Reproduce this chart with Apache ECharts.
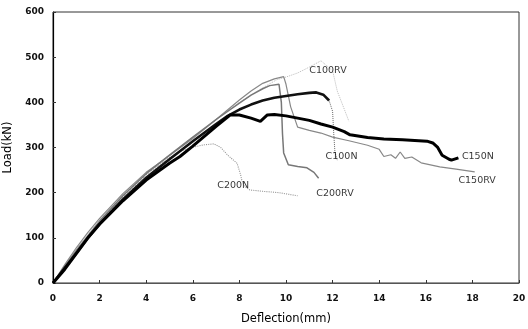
<!DOCTYPE html>
<html><head><meta charset="utf-8">
<script src="https://cdn.jsdelivr.net/npm/echarts@6/dist/echarts.min.js"></script>
<style>html,body{margin:0;padding:0;background:#fff}#c{width:528px;height:329px}</style>
</head><body><div id="c"></div>
<script>
// Deflection (mm), Load (kN)
const c150N = [[0,0],[0.5,30],[1,65],[1.5,100],[2,130],[3,182],[4,228],[5,265],[5.45,280],[6,303],[7,347],[7.6,372],[8,372],[8.5,365],[8.9,358],[9.2,372],[9.5,373],[10,370],[10.5,365],[11,360],[11.5,352],[12,345],[12.5,335],[12.75,328],[13.5,322],[14.2,319],[15,317],[16.05,314],[16.3,310],[16.5,301],[16.7,283],[17.0,274],[17.1,272],[17.4,277]];
const c100N = [[0,0],[0.5,33],[1,66],[1.5,100],[2,131],[3,185],[4,233],[5,274],[6,314],[7,352],[7.5,370],[8,384],[8.5,395],[9,404],[9.5,410],[10,414],[10.5,418],[11,421],[11.3,422],[11.6,417],[11.85,404]];
const c100NDrop = [[11.85,404],[12.0,380],[12.05,330],[12.1,290],[12.2,272]];
const c150RV = [[0,0],[0.5,40],[1,78],[1.5,112],[2,143],[3,198],[4,245],[5,282],[6,320],[7,362],[8,405],[8.5,425],[9,442],[9.5,452],[9.9,457],[10.0,440],[10.2,390],[10.5,345],[11,338],[11.5,332],[12,323],[12.7,315],[13.5,305],[14,296],[14.2,280],[14.5,284],[14.7,276],[14.9,290],[15.1,276],[15.4,279],[15.8,266],[16.6,257],[17.3,252],[18.1,246]];
const c100RV = [[0,0],[1,74],[2,140],[3,196],[4,244],[5,284],[6,323],[7,361],[8,400],[9,432],[9.6,450],[10,456],[10.5,465],[11,478],[11.5,492],[12,470],[12.2,425],[12.5,385],[12.7,358]];
const c200RV = [[0,0],[1,72],[2,137],[3,193],[4,242],[5,283],[6,323],[7,362],[8,398],[8.5,416],[9,430],[9.3,437],[9.7,440],[9.8,400],[9.85,330],[9.9,288],[10.1,262],[10.5,258],[10.9,255],[11.2,245],[11.4,232]];
const c200N = [[0,0],[1,70],[2,135],[3,190],[4,240],[5,278],[5.5,292],[6,301],[6.5,306],[6.9,308],[7.2,300],[7.5,283],[7.9,265],[8.05,240],[8.1,228],[8.2,215],[8.45,206],[9,203],[9.7,200],[10.5,193]];
const seriesNames = ['C150N','C100N','C150RV','C100RV','C200RV','C200N'];
const labelTexts = ['C100RV','C100N','C150N','C150RV','C200RV','C200N'];
const labelCoords = [[11.0,471],[11.7,279],[17.55,279],[17.4,226],[11.3,199],[7.05,215]];
const xTicks = [0,2,4,6,8,10,12,14,16,18,20];
const yTicks = [0,100,200,300,400,500,600];

const chart = echarts.init(document.getElementById('c'));
const font = 'DejaVu Sans';
function line(name, data, color, width, type, z) {
  return {name, type:'line', data, symbol:'none', z: z||2,
    lineStyle:{color, width, type: type||'solid'}, animation:false};
}
const labelSeries = {
  type:'scatter', data: labelCoords.map((c,i)=>({value:c, name:labelTexts[i]})),
  symbolSize:0, z:10, animation:false,
  label:{show:true, position:'right', distance:0, formatter:p=>p.name,
    color:'#000', fontFamily:font, fontSize:9.5}
};
chart.setOption({
  backgroundColor:'#fff',
  animation:false,
  grid:{left:53, right:9, top:12, bottom:46, show:true, borderColor:'#333', borderWidth:1,
    containLabel:false, outerBoundsMode:'none'},
  xAxis:{type:'value', min:0, max:20, interval:2,
    name:'Deflection(mm)', nameLocation:'middle', nameGap:30,
    nameTextStyle:{fontFamily:font, fontSize:11.5, color:'#000'},
    axisLine:{show:true, lineStyle:{color:'#555', width:1}},
    axisTick:{show:true, inside:true, length:3, lineStyle:{color:'#333'}},
    axisLabel:{fontFamily:font, fontSize:9, fontWeight:'bold', color:'#111', margin:11},
    splitLine:{show:false}},
  yAxis:{type:'value', min:0, max:600, interval:100,
    name:'Load(kN)', nameLocation:'middle', nameGap:34,
    nameTextStyle:{fontFamily:font, fontSize:11.5, color:'#000'},
    axisLine:{show:true, lineStyle:{color:'#000', width:1.2}},
    axisTick:{show:true, inside:true, length:3, lineStyle:{color:'#333'}},
    axisLabel:{fontFamily:font, fontSize:9, fontWeight:'bold', color:'#111', margin:9},
    splitLine:{show:false}},
  series:[
    line(seriesNames[3], c100RV, '#bbbbbb', 1, 'dotted', 1),
    line(seriesNames[2], c150RV, '#888888', 1.2, 'solid', 2),
    line(seriesNames[5], c200N, '#999999', 1.1, 'dotted', 2),
    line(seriesNames[4], c200RV, '#777777', 1.5, 'solid', 3),
    line(seriesNames[1], c100N, '#111111', 2.6, 'solid', 4),
    line(seriesNames[1]+'drop', c100NDrop, '#666666', 1, 'dotted', 4),
    line(seriesNames[0], c150N, '#000000', 3, 'solid', 5),
    labelSeries
  ]
});
</script></body></html>
